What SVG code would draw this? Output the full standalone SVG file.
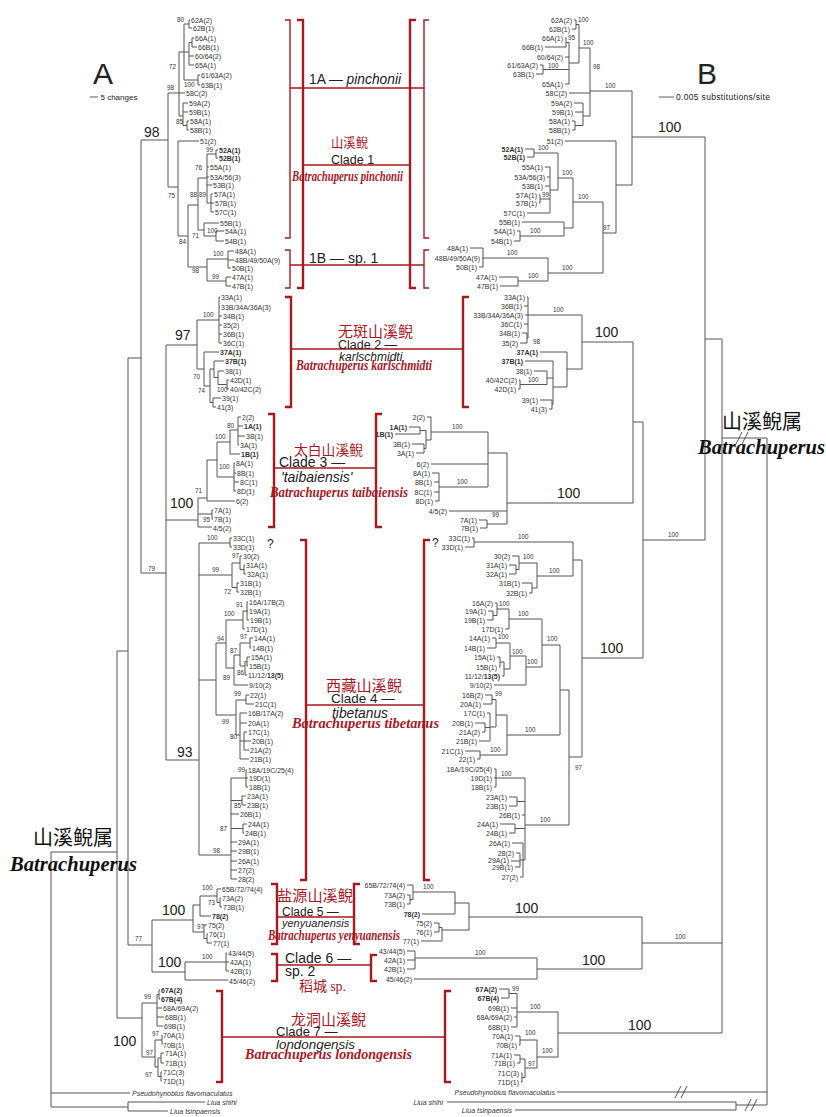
<svg xmlns="http://www.w3.org/2000/svg" width="826" height="1117" viewBox="0 0 826 1117">
<style>
.t{fill:none;stroke:#555;stroke-width:1}
.rb{fill:none;stroke:#a8191f;stroke-width:2.4}
.rt{fill:none;stroke:#a8191f;stroke-width:1.4}
.tp{font-family:"Liberation Sans",Arial,sans-serif;font-size:7px;fill:#333}
.tr{text-anchor:end}
.b{font-weight:bold}
.s{font-family:"Liberation Sans",Arial,sans-serif;font-size:6.3px;fill:#333}
.big{font-family:"Liberation Sans",Arial,sans-serif;font-size:14px;fill:#222}
.cl{font-family:"Liberation Sans",Arial,sans-serif;fill:#222}
.it{font-style:italic}
.rl{font-family:"Liberation Serif","Times New Roman",serif;font-weight:bold;font-style:italic;fill:#a8191f;font-size:14px}
.cn{font-family:"Noto Sans CJK SC","Noto Sans CJK JP",sans-serif;fill:#a8191f}
.gn{font-family:"Noto Sans CJK SC","Noto Sans CJK JP",sans-serif;fill:#111;font-size:20px}
.gl{font-family:"Liberation Serif","Times New Roman",serif;font-weight:bold;font-style:italic;fill:#111;font-size:20px}
</style>
<rect width="826" height="1117" fill="#fff"/>

<g id="headers">
<text x="93" y="84" class="cl" font-size="30">A</text>
<text x="697" y="84" class="cl" font-size="30">B</text>
<path d="M90 97H98M659 97H674" stroke="#333" stroke-width="0.8"/>
<text x="100.5" y="99.5" class="cl" font-size="8">5 changes</text>
<text x="676" y="99.5" class="cl" font-size="8.5" textLength="94">0.005 substitutions/site</text>
</g>

<g id="connectors">
<path class="t" d="M51 852V1107M51 852H117M117 651V1018M117 651H128M128 358V945M128 358H141M141 140V573M141 140H168M141 573H166M166 345V760M166 345H197M166 520H198M166 760H199M128 945H152M152 920V972M152 920H193M152 972H185M117 1018H142M51 1093H130M51 1107H128M128 1102V1111M128 1102H205M128 1111H168"/>
<path class="t" d="M168 93V187M168 93H179M179 52V116M179 52H184M184 24V80M184 24H189M189 20V28M189 20H190M189 28H192M184 52H189M189 42.5V65M189 42.5H192M192 38V47M192 38H194M192 47H197M189 56H194M189 65H194M184 80H198M198 75V85M198 75H200M198 85H200M179 93H185M179 116H183M183 103V125.5M183 103H188M183 112H188M183 125.5H187M187 121V130M187 121H189M187 130H189M168 187H178M178 141V236M178 141H199M178 236H188M188 205V267M188 205H198M198 178V230M198 178H207M207 154V203M207 154H216M216 150V158M216 150H218M216 158H218M207 167H209M207 177H209M207 185H212M207 203H211M211 194V212M211 194H213M211 203H214M211 212H214M198 230H204M204 223V236M204 223H219M204 236H216M216 231V241M216 231H224M216 241H224M188 267H207M207 259V281M207 259H228M228 251V268M228 251H234M228 260H234M228 268H231M207 281H226M226 277V286M226 277H231M226 286H231"/>
<path class="t" d="M197 320V369M197 320H219M219 297V343M219 297H220M219 307H220M219 316H222M219 325H222M219 334H222M219 343H222M197 369H204M204 352V386M204 352H219M204 386H210M210 369V402.5M210 369H214M214 361V377.5M214 361H224M214 377.5H218M218 371V384.5M218 371H224M218 384.5H227M227 380V389M227 380H229M227 389H229M210 402.5H213M213 398V407M213 398H221M213 407H216"/>
<path class="t" d="M198 498V527M198 498H207M207 460V501M207 460H217M207 501H235M198 514H212M212 510V519M212 510H213M212 519H213M198 527H212M217 442V477M217 442H230M230 430V454M230 454H240M230 430H238M238 417V445M238 417H241M238 426H243M238 436H245M238 445H239M217 477H234M234 463V491M234 463H235M234 473H236M234 482H239M234 491H236"/>
<path class="t" d="M199 543V855M199 543H230M230 538V547M230 538H232M230 547H232M199 575H232M232 563V587.5M232 563H240M240 556V569.5M240 556H242M240 569.5H244M244 565V574M244 565H245M244 574H246M232 587.5H237M237 583V592M237 583H239M237 592H239M199 680H216M216 643V715M216 643H226M226 620V668M226 620H243M243 611V629M243 611H247M247 602V620M247 602H248M247 611H248M247 620H249M243 629H245M226 668H234M234 655V685M234 685H248M234 655H240M240 643V666M240 643H250M250 638V648M250 638H253M250 648H251M240 666H245M245 661.5V675M245 661.5H247M247 657V666M247 657H250M247 666H248M245 675H247M216 715H236M236 700V735M236 700H246M246 695V704M246 695H249M246 704H254M236 735H240M240 713V759M240 713H247M240 723H247M240 741H244M244 732V750M244 732H247M244 741H251M244 750H249M240 759H249M199 855H231M231 778V879M231 778H246M246 770V787M246 770H247M246 778H248M246 787H248M231 800.5H242M242 796V805M242 796H246M242 805H246M231 814H239M231 828.5H243M243 824V833M243 824H247M243 833H244M231 842H237M231 851H237M231 861H237M231 870H237M231 879H237"/>
<path class="t" d="M193 905V932M193 905H200M200 896V916M200 896H217M217 889V902.5M217 889H221M217 902.5H220M220 898V907M220 898H221M220 907H222M200 916H211M193 932H204M204 925V938.5M204 925H207M204 938.5H207M207 934V943M207 934H208M207 943H212M185 962V980M185 962H226M226 953V971M226 953H227M226 962H229M226 971H229M185 980H228"/>
<path class="t" d="M142 1003V1057M142 1003H157M157 994.5V1026M157 994.5H159M159 990V999M159 990H160M159 999H160M157 1008H162M157 1017H164M157 1026H163M142 1057H155M155 1040V1067M155 1040H162M162 1035V1045M155 1067H158M158 1058V1076.5M158 1058H161M161 1053V1063M161 1053H164M161 1063H164M158 1076.5H161M161 1072V1081M161 1072H162M161 1081H162"/>
<path class="t" d="M632 91V185M590 91H632M616 185H632M616 141V233M565 141H616M603 233H616M632 137H705M705 137V540M643 540H705M643 422V658M633 422H643M633 342V503M582 342H633M507 503H633M582 658H643M705 339H722M722 339V1033M722 438H767M767 438V1105M557 1092H767M736 1102V1110M736 1105H767M447 1102H736M515 1110H736M642 943H722M558 1033H722"/>
<path class="t" d="M675 1098L681 1086M681 1098L687 1086M745 1111L751 1099M751 1111L757 1099M736 444L742 432M742 444L748 432"/>
<path class="t" d="M574 20H576M572 29H576M576 20V29M576 24.5H579M565 38H566M545 47H566M566 38V47M566 42.5H569M565 57H569M540 65H543M536 74H543M543 65V74M543 69.5H569M565 84H569M569 42.5V84M569 63H579M579 24.5V63M579 48H590M590 48V116M569 93H590M583 116H590M583 103V125.5M574 103H583M575 112H583M575 125.5H583M572 121H575M572 130H575M575 121V130M525 149H534M527 157H534M534 149V157M534 153H558M545 167H550M547 177H550M545 186H550M539 195H540M539 203H540M540 195V203M540 199H550M527 213H550M550 167V213M550 190H558M558 153V190M558 178H573M522 222H564M517 231H520M514 241H520M520 231V241M520 236H564M564 222V236M564 228H573M573 178V228M573 202H603M603 202V273M470 248H483M482 258H483M479 267H483M483 248V267M483 258H548M499 277H518M500 286H518M518 277V286M518 281H548M548 258V281M548 273H603"/>
<path class="t" d="M527 297H528M524 306H528M525 315H528M524 324H528M528 297V338M522 333H527M520 343H527M527 333V343M527 338H528M528 315H582M540 352H567M525 361H553M534 371H547M519 380H520M518 389H520M520 380V389M520 384.5H547M547 371V384.5M547 378H553M540 400H552M549 409H552M552 400V409M552 404.5H553M553 361V404.5M553 387H567M567 352V387M567 369H582M582 315V369"/>
<path class="t" d="M427 417H431M409 427H420M395 434H420M420 427V434M420 430.5H426M412 444H424M416 453H424M424 444V453M424 448.5H426M426 430.5V448.5M426 440H431M431 417V440M431 432H488M431 464H488M432 473H439M434 482H439M434 492H439M435 501H439M439 473V501M439 487H488M488 432V487M488 453H507M449 511H507M479 520H487M480 528H487M487 520V528M487 524H507M507 453V524"/>
<path class="t" d="M472 538H474M465 547H474M474 538V547M474 542H573M512 556H519M509 565H516M509 574H516M516 565V574M516 569.5H519M519 556V569.5M519 563H537M522 583H532M529 593H532M532 583V593M532 588H537M537 563V588M537 576H573M573 542V576M573 560H582M582 560V757M569 757H582M569 690V825M560 690H569M560 645V735M542 645H560M542 619V667M495 603H497M488 611H493M487 620H493M493 611V620M493 615.5H497M497 603V615.5M497 609H509M505 629H509M509 609V629M509 619H542M492 638H496M487 648H496M496 638V648M496 643H510M497 657H500M499 667H500M500 657V667M500 662H504M502 676H504M504 662V676M504 669H510M510 643V669M510 656H526M494 685H526M526 656V685M526 667H542M507 715V755M507 735H560M485 695H492M483 704H492M492 695V704M492 699.5H496M487 713H490M475 723H485M482 732H485M485 723V732M485 727.5H490M479 741H490M490 713V741M490 727H496M496 699.5V727M496 715H507M465 751H480M477 759H480M480 751V759M480 755H507M494 769H496M494 778H496M494 787H496M496 769V787M496 778H525M509 797H517M509 806H517M517 797V806M517 801.5H525M522 815H525M500 824H515M509 833H515M515 824V833M515 828.5H525M512 843H523M516 853H520M511 861H520M515 867H520M520 853V867M520 860H523M520 877H523M523 843V877M523 860H525M525 778V860M525 825H569"/>
<path class="t" d="M407 885H413M407 895H410M407 904H410M410 895V904M410 899.5H413M413 885V899.5M413 892H455M422 914H455M455 892V914M455 903H469M434 923H439M434 932H439M439 923V932M439 927.5H442M421 941H442M442 927.5V941M442 930H469M469 903V930M469 917H642M407 951H415M407 960H415M407 969H415M415 951V969M415 958H537M414 979H537M537 958V979M537 969H642M642 917V969"/>
<path class="t" d="M499 989H509M501 998H509M509 989V998M509 993.5H517M511 1008H517M514 1017H517M511 1027H517M517 993.5V1027M517 1012H558M515 1036H520M519 1045H520M520 1036V1045M520 1040H537M514 1055H520M517 1063H520M520 1055V1063M520 1059H525M521 1073H522M521 1082H522M522 1073V1082M522 1077.5H525M525 1059V1077.5M525 1068H537M537 1040V1068M537 1057H558M558 1012V1057"/>
</g>

<g id="clade-brackets">
<path class="rb" d="M297 20H303V288H297M416 20H410V288H416M285 297H291V407H285M469 297H463V407H469M268 414H274V527H268M382 414H376V527H382M300 540H306V880H300M430 540H424V880H430M271 884H277V944H271M360 884H354V944H360M271 954H277V981H271M377 955H371V981H377M216 991H222V1082H216M451 991H445V1082H451"/>
<path class="rt" d="M285 20H290V238H285M285 250H290V288H285M429 20H424V238H429M429 250H424V288H429M290 88H424M303 165H410M290 265H424M291 349H463M274 468H376M306 705H424M277 917H354M277 965H371M222 1037H445"/>
</g>

<g id="A-clade1" class="tp">
<text x="191" y="22.5">62A(2)</text><text x="193" y="30.5">62B(1)</text><text x="195" y="40.5">66A(1)</text><text x="198" y="49.5">66B(1)</text><text x="195" y="58.5">60/64(2)</text><text x="195" y="67.5">65A(1)</text><text x="201" y="77.5">61/63A(2)</text><text x="201" y="87.5">63B(1)</text><text x="186" y="95.5">58C(2)</text><text x="189" y="105.5">59A(2)</text><text x="189" y="114.5">59B(1)</text><text x="190" y="123.5">58A(1)</text><text x="190" y="132.5">58B(1)</text><text x="200" y="143.5">51(2)</text><text x="219" y="152.5" class="b">52A(1)</text><text x="219" y="160.5" class="b">52B(1)</text><text x="210" y="169.5">55A(1)</text><text x="210" y="179.5">53A/56(3)</text><text x="213" y="187.5">53B(1)</text><text x="214" y="196.5">57A(1)</text><text x="215" y="205.5">57B(1)</text><text x="215" y="214.5">57C(1)</text><text x="220" y="225.5">55B(1)</text><text x="225" y="233.5">54A(1)</text><text x="225" y="243.5">54B(1)</text><text x="235" y="253.5">48A(1)</text><text x="235" y="262.5">48B/49/50A(9)</text><text x="232" y="270.5">50B(1)</text><text x="232" y="279.5">47A(1)</text><text x="232" y="288.5">47B(1)</text>
</g>
<g id="A-clade2" class="tp">
<text x="221" y="299.5">33A(1)</text><text x="221" y="309.5">33B/34A/36A(3)</text><text x="223" y="318.5">34B(1)</text><text x="223" y="327.5">35(2)</text><text x="223" y="336.5">36B(1)</text><text x="223" y="345.5">36C(1)</text><text x="220" y="354.5" class="b">37A(1)</text><text x="225" y="363.5" class="b">37B(1)</text><text x="225" y="373.5">38(1)</text><text x="230" y="382.5">42D(1)</text><text x="230" y="391.5">40/42C(2)</text><text x="222" y="400.5">39(1)</text><text x="217" y="409.5">41(3)</text>
</g>
<g id="A-clade3" class="tp">
<text x="242" y="419.5">2(2)</text><text x="244" y="428.5" class="b">1A(1)</text><text x="246" y="438.5">3B(1)</text><text x="240" y="447.5">3A(1)</text><text x="241" y="456.5" class="b">1B(1)</text><text x="236" y="465.5">8A(1)</text><text x="237" y="475.5">8B(1)</text><text x="240" y="484.5">8C(1)</text><text x="237" y="493.5">8D(1)</text><text x="236" y="503.5">6(2)</text><text x="214" y="512.5">7A(1)</text><text x="214" y="521.5">7B(1)</text><text x="213" y="530.5">4/5(2)</text>
</g>
<g id="A-clade4" class="tp">
<text x="233" y="540.5">33C(1)</text><text x="233" y="549.5">33D(1)</text><text x="243" y="558.5">30(2)</text><text x="246" y="567.5">31A(1)</text><text x="247" y="576.5">32A(1)</text><text x="240" y="585.5">31B(1)</text><text x="240" y="594.5">32B(1)</text><text x="249" y="604.5">16A/17B(2)</text><text x="249" y="613.5">19A(1)</text><text x="250" y="622.5">19B(1)</text><text x="246" y="631.5">17D(1)</text><text x="254" y="640.5">14A(1)</text><text x="252" y="650.5">14B(1)</text><text x="251" y="659.5">15A(1)</text><text x="249" y="668.5">15B(1)</text><text x="248" y="677.5">11/12/<tspan class="b">13(5)</tspan></text><text x="249" y="687.5">9/10(2)</text><text x="250" y="697.5">22(1)</text><text x="255" y="706.5">21C(1)</text><text x="248" y="715.5">16B/17A(2)</text><text x="248" y="725.5">20A(1)</text><text x="248" y="734.5">17C(1)</text><text x="252" y="743.5">20B(1)</text><text x="250" y="752.5">21A(2)</text><text x="250" y="761.5">21B(1)</text><text x="248" y="772.5">18A/19C/25(4)</text><text x="249" y="780.5">19D(1)</text><text x="249" y="789.5">18B(1)</text><text x="247" y="798.5">23A(1)</text><text x="247" y="807.5">23B(1)</text><text x="240" y="816.5">26B(1)</text><text x="248" y="826.5">24A(1)</text><text x="245" y="835.5">24B(1)</text><text x="238" y="844.5">29A(1)</text><text x="238" y="853.5">29B(1)</text><text x="238" y="863.5">26A(1)</text><text x="238" y="872.5">27(2)</text><text x="238" y="881.5">28(2)</text>
</g>
<g id="A-clade5-6" class="tp">
<text x="222" y="891.5">65B/72/74(4)</text><text x="222" y="900.5">73A(2)</text><text x="223" y="909.5">73B(1)</text><text x="212" y="918.5" class="b">78(2)</text><text x="208" y="927.5">75(2)</text><text x="209" y="936.5">76(1)</text><text x="213" y="945.5">77(1)</text><text x="228" y="955.5">43/44(5)</text><text x="230" y="964.5">42A(1)</text><text x="230" y="973.5">42B(1)</text><text x="229" y="983.5">45/46(2)</text>
</g>
<g id="A-clade7" class="tp">
<text x="161" y="992.5" class="b">67A(2)</text><text x="161" y="1001.5" class="b">67B(4)</text><text x="163" y="1010.5">68A/69A(2)</text><text x="165" y="1019.5">68B(1)</text><text x="164" y="1028.5">69B(1)</text><text x="163" y="1037.5">70A(1)</text><text x="163" y="1047.5">70B(1)</text><text x="165" y="1055.5">71A(1)</text><text x="165" y="1065.5">71B(1)</text><text x="163" y="1074.5">71C(3)</text><text x="163" y="1083.5">71D(1)</text>
</g>
<g id="A-outgroups" class="tp it">
<text x="132" y="1095.5">Pseudohynobius flavomaculatus</text><text x="207" y="1104.5">Liua shihi</text><text x="170" y="1113.5">Liua tsinpaensis</text>
</g>

<g id="B-clade1" class="tp tr">
<text x="572" y="22.5">62A(2)</text><text x="570" y="31.5">62B(1)</text><text x="563" y="40.5">66A(1)</text><text x="543" y="49.5">66B(1)</text><text x="563" y="59.5">60/64(2)</text><text x="538" y="67.5">61/63A(2)</text><text x="534" y="76.5">63B(1)</text><text x="563" y="86.5">65A(1)</text><text x="567" y="95.5">58C(2)</text><text x="572" y="105.5">59A(2)</text><text x="573" y="114.5">59B(1)</text><text x="570" y="123.5">58A(1)</text><text x="570" y="132.5">58B(1)</text><text x="563" y="143.5">51(2)</text><text x="523" y="151.5" class="b">52A(1)</text><text x="525" y="159.5" class="b">52B(1)</text><text x="543" y="169.5">55A(1)</text><text x="545" y="179.5">53A/56(3)</text><text x="543" y="188.5">53B(1)</text><text x="537" y="197.5">57A(1)</text><text x="537" y="205.5">57B(1)</text><text x="525" y="215.5">57C(1)</text><text x="520" y="224.5">55B(1)</text><text x="515" y="233.5">54A(1)</text><text x="512" y="243.5">54B(1)</text><text x="468" y="250.5">48A(1)</text><text x="480" y="260.5">48B/49/50A(9)</text><text x="477" y="269.5">50B(1)</text><text x="497" y="279.5">47A(1)</text><text x="498" y="288.5">47B(1)</text>
</g>
<g id="B-clade2" class="tp tr">
<text x="525" y="299.5">33A(1)</text><text x="522" y="308.5">36B(1)</text><text x="523" y="317.5">33B/34A/36A(3)</text><text x="522" y="326.5">36C(1)</text><text x="520" y="335.5">34B(1)</text><text x="518" y="345.5">35(2)</text><text x="538" y="354.5" class="b">37A(1)</text><text x="523" y="363.5" class="b">37B(1)</text><text x="532" y="373.5">38(1)</text><text x="517" y="382.5">40/42C(2)</text><text x="516" y="391.5">42D(1)</text><text x="538" y="402.5">39(1)</text><text x="547" y="411.5">41(3)</text>
</g>
<g id="B-clade3" class="tp tr">
<text x="425" y="419.5">2(2)</text><text x="407" y="429.5" class="b">1A(1)</text><text x="393" y="436.5" class="b">1B(1)</text><text x="410" y="446.5">3B(1)</text><text x="414" y="455.5">3A(1)</text><text x="429" y="466.5">6(2)</text><text x="430" y="475.5">8A(1)</text><text x="432" y="484.5">8B(1)</text><text x="432" y="494.5">8C(1)</text><text x="433" y="503.5">8D(1)</text><text x="447" y="513.5">4/5(2)</text><text x="477" y="522.5">7A(1)</text><text x="478" y="530.5">7B(1)</text>
</g>
<g id="B-clade4" class="tp tr">
<text x="470" y="540.5">33C(1)</text><text x="463" y="549.5">33D(1)</text><text x="510" y="558.5">30(2)</text><text x="507" y="567.5">31A(1)</text><text x="507" y="576.5">32A(1)</text><text x="520" y="585.5">31B(1)</text><text x="527" y="595.5">32B(1)</text><text x="493" y="605.5">16A(2)</text><text x="486" y="613.5">19A(1)</text><text x="485" y="622.5">19B(1)</text><text x="503" y="631.5">17D(1)</text><text x="490" y="640.5">14A(1)</text><text x="485" y="650.5">14B(1)</text><text x="495" y="659.5">15A(1)</text><text x="497" y="669.5">15B(1)</text><text x="500" y="678.5">11/12/<tspan class="b">13(5)</tspan></text><text x="492" y="687.5">9/10(2)</text><text x="483" y="697.5">16B(2)</text><text x="481" y="706.5">20A(1)</text><text x="485" y="715.5">17C(1)</text><text x="473" y="725.5">20B(1)</text><text x="480" y="734.5">21A(2)</text><text x="477" y="743.5">21B(1)</text><text x="463" y="753.5">21C(1)</text><text x="475" y="761.5">22(1)</text><text x="492" y="771.5">18A/19C/25(4)</text><text x="492" y="780.5">19D(1)</text><text x="492" y="789.5">18B(1)</text><text x="507" y="799.5">23A(1)</text><text x="507" y="808.5">23B(1)</text><text x="520" y="817.5">26B(1)</text><text x="498" y="826.5">24A(1)</text><text x="507" y="835.5">24B(1)</text><text x="510" y="845.5">26A(1)</text><text x="514" y="855.5">28(2)</text><text x="509" y="863">29A(1)</text><text x="513" y="869.5">29B(1)</text><text x="518" y="879.5">27(2)</text>
</g>
<g id="B-clade5-6" class="tp tr">
<text x="405" y="887.5">65B/72/74(4)</text><text x="405" y="897.5">73A(2)</text><text x="405" y="906.5">73B(1)</text><text x="420" y="916.5" class="b">78(2)</text><text x="432" y="925.5">75(2)</text><text x="432" y="934.5">76(1)</text><text x="419" y="944">77(1)</text><text x="405" y="953.5">43/44(5)</text><text x="405" y="962.5">42A(1)</text><text x="405" y="971.5">42B(1)</text><text x="412" y="981.5">45/46(2)</text>
</g>
<g id="B-clade7" class="tp tr">
<text x="497" y="991.5" class="b">67A(2)</text><text x="499" y="1000.5" class="b">67B(4)</text><text x="509" y="1010.5">69B(1)</text><text x="512" y="1019.5">68A/69A(2)</text><text x="509" y="1029.5">68B(1)</text><text x="513" y="1038.5">70A(1)</text><text x="517" y="1047.5">70B(1)</text><text x="512" y="1057.5">71A(1)</text><text x="515" y="1065.5">71B(1)</text><text x="519" y="1075.5">71C(3)</text><text x="519" y="1084.5">71D(1)</text>
</g>
<g id="B-outgroups" class="tp tr it">
<text x="555" y="1094.5">Pseudohynobius flavomaculatus</text><text x="443" y="1104.5">Liua shihi</text><text x="512" y="1112.5">Liua tsinpaensis</text>
</g>

<g id="support-A" class="s">
<text x="177" y="22">80</text><text x="169" y="69">72</text><text x="184" y="87">100</text><text x="167" y="90">98</text><text x="176" y="124">85</text><text x="168" y="198">75</text><text x="206" y="152">99</text><text x="195" y="170">76</text><text x="190" y="197">88</text><text x="199" y="197">89</text><text x="192" y="238">71</text><text x="207" y="233">100</text><text x="179" y="244">84</text><text x="192" y="273">98</text><text x="213" y="256">100</text><text x="212" y="279">99</text>
<text x="203" y="317">100</text><text x="193" y="379">70</text><text x="198" y="393">74</text><text x="217" y="392">100</text>
<text x="195" y="493">71</text><text x="215" y="439">100</text><text x="227" y="428">80</text><text x="219" y="469">100</text><text x="203" y="522">95</text>
<text x="148" y="571">79</text><text x="207" y="540">100</text><text x="212" y="572">99</text><text x="232" y="558">97</text><text x="224" y="594">72</text><text x="236" y="607">91</text><text x="224" y="616">100</text><text x="217" y="641">94</text><text x="240" y="639">97</text><text x="230" y="653">87</text><text x="237" y="675">86</text><text x="223" y="680">89</text><text x="234" y="696">99</text><text x="222" y="724">99</text><text x="230" y="739">80</text><text x="238" y="772">99</text><text x="234" y="808">85</text><text x="220" y="831">87</text><text x="213" y="853">98</text>
<text x="135" y="941">77</text><text x="202" y="890">100</text><text x="208" y="905">73</text><text x="197" y="929">97</text><text x="202" y="959">100</text>
<text x="144" y="999">99</text><text x="146" y="1055">97</text><text x="152" y="1036">97</text><text x="145" y="1077">97</text>
</g>
<g id="support-B" class="s">
<text x="578" y="22">100</text><text x="568" y="40">95</text><text x="548" y="68">100</text><text x="583" y="45">100</text><text x="593" y="69">98</text><text x="605" y="88">100</text><text x="538" y="150">100</text><text x="542" y="197">99</text><text x="562" y="175">100</text><text x="530" y="233">100</text><text x="578" y="199">100</text><text x="603" y="230">97</text><text x="507" y="255">100</text><text x="528" y="278">100</text><text x="562" y="270">100</text><text x="668" y="537">100</text>
<text x="553" y="312">100</text><text x="533" y="344">98</text><text x="528" y="382">100</text>
<text x="452" y="429">100</text><text x="457" y="484">100</text><text x="492" y="517">99</text>
<text x="518" y="539">100</text><text x="523" y="559">100</text><text x="549" y="573">100</text><text x="575" y="770">97</text><text x="547" y="641">100</text><text x="499" y="606">100</text><text x="518" y="616">100</text><text x="498" y="639">100</text><text x="512" y="654">100</text><text x="527" y="664">100</text><text x="525" y="732">100</text><text x="495" y="696">99</text><text x="490" y="752">100</text><text x="501" y="776">100</text><text x="540" y="822">100</text>
<text x="423" y="889">100</text><text x="475" y="955">100</text><text x="675" y="939">100</text>
<text x="512" y="991">99</text><text x="530" y="1009">100</text><text x="525" y="1035">100</text><text x="528" y="1066">97</text><text x="542" y="1053">100</text>
</g>
<g id="support-major" class="big">
<text x="144" y="137">98</text><text x="175" y="340">97</text><text x="170" y="508">100</text><text x="177" y="757">93</text><text x="162" y="915">100</text><text x="158" y="967">100</text><text x="113" y="1046">100</text>
<text x="658" y="132">100</text><text x="595" y="337">100</text><text x="557" y="498">100</text><text x="600" y="653">100</text><text x="515" y="913">100</text><text x="582" y="965">100</text><text x="628" y="1030">100</text>
<text x="267" y="548" font-size="12">?</text><text x="432" y="547" font-size="12">?</text>
</g>

<g id="genus-labels">
<text x="33" y="845" class="gn">山溪鲵属</text>
<text x="10" y="871" class="gl" textLength="127" lengthAdjust="spacingAndGlyphs">Batrachuperus</text>
<text x="722" y="429" class="gn">山溪鲵属</text>
<text x="698" y="454" class="gl" textLength="127" lengthAdjust="spacingAndGlyphs">Batrachuperus</text>
</g>

<g id="clade1-label">
<text x="309" y="84" class="cl" font-size="13.8">1A — <tspan class="it">pinchonii</tspan></text>
<text x="331" y="147" class="cn" font-size="13" textLength="37" lengthAdjust="spacingAndGlyphs">山溪鲵</text>
<text x="331" y="164" class="cl" font-size="12.5">Clade 1</text>
<text x="292" y="181" class="rl" textLength="111" lengthAdjust="spacingAndGlyphs">Batrachuperus pinchonii</text>
<text x="309" y="263" class="cl" font-size="14">1B — sp. 1</text>
</g>
<g id="clade2-label">
<text x="338" y="337" class="cn" font-size="14.5" textLength="75" lengthAdjust="spacingAndGlyphs">无斑山溪鲵</text>
<text x="338" y="348.5" class="cl" font-size="12.5">Clade 2 —</text>
<text x="339" y="361" class="cl it" font-size="12">karlschmidti</text>
<text x="296" y="370" class="rl" textLength="136" lengthAdjust="spacingAndGlyphs">Batrachuperus karlschmidti</text>
</g>
<g id="clade3-label">
<text x="294" y="455" class="cn" font-size="14" textLength="69" lengthAdjust="spacingAndGlyphs">太白山溪鲵</text>
<text x="279" y="467" class="cl" font-size="14">Clade 3 —</text>
<text x="281" y="482" class="cl it" font-size="14">'taibaiensis'</text>
<text x="270" y="497" class="rl" textLength="138" lengthAdjust="spacingAndGlyphs">Batrachuperus taibaiensis</text>
</g>
<g id="clade4-label">
<text x="326" y="691" class="cn" font-size="15" textLength="76" lengthAdjust="spacingAndGlyphs">西藏山溪鲵</text>
<text x="331" y="703" class="cl" font-size="13.5">Clade 4 —</text>
<text x="332" y="718" class="cl it" font-size="13.8">tibetanus</text>
<text x="292" y="728" class="rl" textLength="147" lengthAdjust="spacingAndGlyphs">Batrachuperus tibetanus</text>
</g>
<g id="clade5-label">
<text x="277" y="901" class="cn" font-size="15" textLength="76" lengthAdjust="spacingAndGlyphs">盐源山溪鲵</text>
<text x="282" y="916" class="cl" font-size="12">Clade 5 —</text>
<text x="282" y="927" class="cl it" font-size="11">yenyuanensis</text>
<text x="268" y="940" class="rl" textLength="132" lengthAdjust="spacingAndGlyphs">Batrachuperus yenyuanensis</text>
</g>
<g id="clade6-label">
<text x="285" y="963" class="cl" font-size="14">Clade 6 —</text>
<text x="285" y="976" class="cl" font-size="14">sp. 2</text>
<text x="299" y="991" class="cn" font-size="14">稻城 <tspan font-family="Liberation Serif, serif">sp.</tspan></text>
</g>
<g id="clade7-label">
<text x="291" y="1025" class="cn" font-size="15" textLength="75" lengthAdjust="spacingAndGlyphs">龙洞山溪鲵</text>
<text x="276" y="1036" class="cl" font-size="13">Clade 7 —</text>
<text x="276" y="1049" class="cl it" font-size="13.4">londongensis</text>
<text x="245" y="1059" class="rl" textLength="167" lengthAdjust="spacingAndGlyphs">Batrachuperus londongensis</text>
</g>
</svg>
